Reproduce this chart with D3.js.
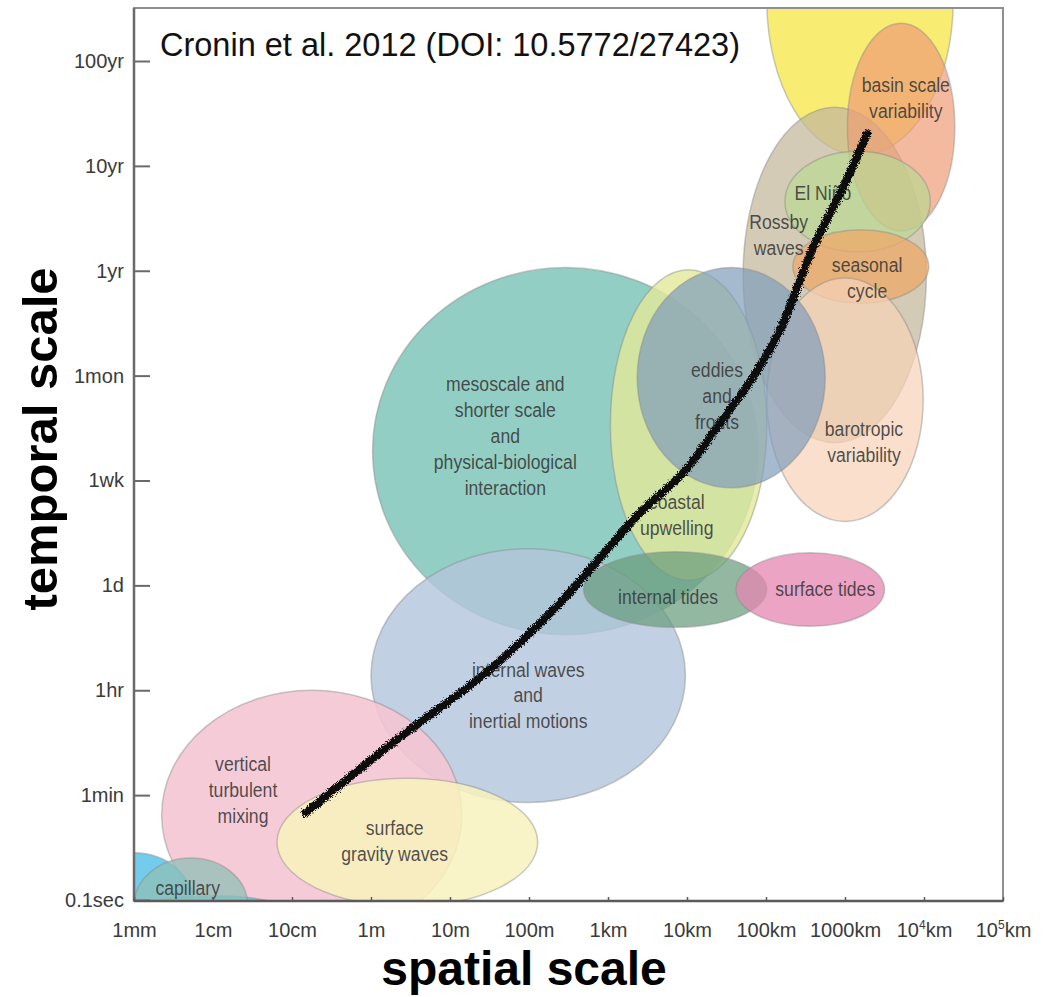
<!DOCTYPE html>
<html>
<head>
<meta charset="utf-8">
<script src="https://cdn.jsdelivr.net/npm/d3@7"></script>
<style>
  body { margin: 0; background: #fff; }
  text { font-family: "Liberation Sans", Arial, Helvetica, sans-serif; }
</style>
</head>
<body>
<div id="chart"></div>
<script>
// axis units: x = decades above 1mm, y = tick steps above 0.1sec
var spaceTicks = ["1mm", "1cm", "10cm", "1m", "10m", "100m", "1km", "10km", "100km", "1000km", "10^4km", "10^5km"]
var timeTicks = ["0.1sec", "1min", "1hr", "1d", "1wk", "1mon", "1yr", "10yr", "100yr"]

// one entry per process, in drawing order
var processes = ["large scale", "Rossby waves", "basin scale variability", "El Nino", "seasonal cycle",
  "barotropic variability", "mesoscale", "coastal upwelling", "eddies and fronts", "internal waves",
  "internal tides", "surface tides", "vertical turbulent mixing", "surface gravity waves",
  "small scale", "small scale strip", "capillary"]
var centerSpace = [9.19, 8.87, 9.71, 9.16, 9.20, 9.00, 5.46, 7.02, 7.56, 4.99, 6.85, 8.56, 2.25, 3.46, 0.00, 1.00, 0.72]
var centerTime  = [8.58, 5.96, 7.37, 6.66, 6.04, 4.77, 4.28, 4.53, 4.98, 2.14, 2.96, 2.96, 0.81, 0.55, -0.05, -0.12, -0.05]
var spreadSpace = [1.18, 1.16, 0.68, 0.92, 0.86, 0.99, 2.44, 0.99, 1.19, 1.99, 1.16, 0.94, 1.90, 1.65, 0.76, 1.00, 0.72]
var spreadTime  = [1.48, 1.60, 0.99, 0.48, 0.35, 1.16, 1.75, 1.48, 1.05, 1.21, 0.36, 0.35, 1.19, 0.61, 0.50, 0.16, 0.45]

var labelLines = [
  [], ["Rossby", "waves"], ["basin scale", "variability"], ["El Niño"], ["seasonal", "cycle"],
  ["barotropic", "variability"],
  ["mesoscale and", "shorter scale", "and", "physical-biological", "interaction"],
  ["coastal", "upwelling"], ["eddies", "and", "fronts"], ["internal waves", "and", "inertial motions"],
  ["internal tides"], ["surface tides"], ["vertical", "turbulent", "mixing"], ["surface", "gravity waves"],
  [], [], ["capillary"]
]
var labelSpace = [0, 8.16, 9.77, 8.72, 9.28, 9.24, 4.70, 6.87, 7.38, 4.99, 6.76, 8.75, 1.38, 3.30, 0, 0, 0.68]
var labelTime  = [0, 6.34, 7.65, 6.74, 5.93, 4.37, 4.42, 3.67, 4.81, 1.95, 2.89, 2.97, 1.05, 0.56, 0, 0, 0.11]

// hand drawn trend line
var curveSpace = [2.17, 3.28, 4.54, 5.39, 6.44, 6.95, 7.42, 7.84, 8.18, 8.60, 8.98, 9.28]
var curveTime  = [0.83, 1.50, 2.22, 2.83, 3.72, 4.07, 4.55, 4.99, 5.44, 6.23, 6.80, 7.31]

var fills = ["#f7ea63", "#c4ba9c", "#ee9d76", "#b9d993", "#eda86a", "#f6d3b8", "#86c9bd", "#e2e99a",
  "#7f9dbb", "#b3c6dc", "#6a9c7e", "#e586b2", "#f4c4d2", "#f8f2bd", "#5bc3e8", "#5bc3e8", "#8fbfb6"]
var alphas = [0.9, 0.75, 0.7, 0.7, 0.75, 0.72, 0.9, 0.8, 0.7, 0.82, 0.72, 0.75, 0.88, 0.85, 0.85, 0.85, 0.75]

var width = 1048, height = 997
var plotLeft = 134, plotRight = 1003, plotTop = 8, plotBottom = 901

var svg = d3.select("#chart").append("svg")
  .attr("width", width)
  .attr("height", height)

var x = d3.scaleLinear().domain([0, 11]).range([plotLeft, plotRight])
var y = d3.scaleLinear().domain([0, 8]).range([900, 61])

var defs = svg.append("defs")
defs.append("clipPath").attr("id", "plotclip")
  .append("rect")
  .attr("x", plotLeft).attr("y", plotTop)
  .attr("width", plotRight - plotLeft).attr("height", plotBottom - plotTop)

var rough = defs.append("filter").attr("id", "rough")
  .attr("x", "-10%").attr("y", "-10%").attr("width", "120%").attr("height", "120%")
rough.append("feTurbulence").attr("type", "fractalNoise").attr("baseFrequency", 1.3)
  .attr("numOctaves", 2).attr("result", "noise")
rough.append("feDisplacementMap").attr("in", "SourceGraphic").attr("in2", "noise")
  .attr("scale", 7).attr("xChannelSelector", "R").attr("yChannelSelector", "G")

var data = processes.map(function (p, i) {
  return {
    name: p, cx: centerSpace[i], cy: centerTime[i], rx: spreadSpace[i], ry: spreadTime[i],
    lines: labelLines[i], lx: labelSpace[i], ly: labelTime[i], fill: fills[i], alpha: alphas[i]
  }
})

// ellipses
svg.append("g")
  .attr("clip-path", "url(#plotclip)")
  .selectAll("ellipse")
  .data(data)
  .join("ellipse")
  .attr("cx", d => x(d.cx))
  .attr("cy", d => y(d.cy))
  .attr("rx", d => x(d.cx + d.rx) - x(d.cx))
  .attr("ry", d => y(d.cy - d.ry) - y(d.cy))
  .attr("fill", d => d.fill)
  .attr("fill-opacity", d => d.alpha)
  .attr("stroke", "#8a8a8a")
  .attr("stroke-opacity", 0.45)
  .attr("stroke-width", 1.5)

// labels inside ellipses (narrow, like the scanned figure)
var lineGap = 26
var labels = svg.append("g")
  .selectAll("g")
  .data(data.filter(d => d.lines.length > 0))
  .join("g")
  .attr("transform", d => "translate(" + x(d.lx) + "," + y(d.ly) + ")")

labels.append("text")
  .attr("transform", "scale(0.84,1)")
  .attr("text-anchor", "middle")
  .style("font-size", "21px")
  .style("fill", "#383838")
  .style("fill-opacity", 0.88)
  .selectAll("tspan")
  .data(d => d.lines.map((t, j) => ({ t: t, j: j, n: d.lines.length })))
  .join("tspan")
  .attr("x", 0)
  .attr("y", d => (d.j - (d.n - 1) / 2) * lineGap + 7)
  .text(d => d.t)

// frame
svg.append("rect")
  .attr("x", plotLeft).attr("y", plotTop)
  .attr("width", plotRight - plotLeft).attr("height", plotBottom - plotTop)
  .attr("fill", "none")
  .attr("stroke", "#8f8f8f")
  .attr("stroke-width", 2)

// y axis
var yAxis = svg.append("g")
  .attr("transform", "translate(" + plotLeft + ",0)")
  .call(d3.axisLeft(y).tickValues(d3.range(timeTicks.length))
    .tickFormat(i => timeTicks[i]).tickSize(-16).tickPadding(10))
yAxis.select(".domain").attr("stroke", "#6a6a6a").attr("stroke-width", 2.5)
  .attr("d", "M0," + plotTop + "V" + plotBottom)
yAxis.selectAll(".tick line").attr("stroke", "#6a6a6a").attr("stroke-width", 2)
yAxis.selectAll(".tick text")
  .style("font-size", "20px")
  .style("fill", "#3a3a3a")

// x axis
var xAxis = svg.append("g")
  .attr("transform", "translate(0," + plotBottom + ")")
  .call(d3.axisBottom(x).tickValues(d3.range(spaceTicks.length))
    .tickFormat(i => spaceTicks[i]).tickSize(-4).tickPadding(22))
xAxis.select(".domain").attr("stroke", "#5a5a5a").attr("stroke-width", 2.5)
  .attr("d", "M" + plotLeft + ",0H" + plotRight)
xAxis.selectAll(".tick line").attr("stroke", "#5a5a5a").attr("stroke-width", 1.5)
xAxis.selectAll(".tick text")
  .style("font-size", "20px")
  .style("fill", "#3a3a3a")
  .each(function (i) {
    var s = spaceTicks[i]
    if (s.indexOf("^") < 0) return
    var base = s.split("^")[0]
    var rest = s.split("^")[1]
    var el = d3.select(this).text("")
    el.append("tspan").text(base)
    el.append("tspan").attr("dy", -8).style("font-size", "12px").text(rest.charAt(0))
    el.append("tspan").attr("dy", 8).text(rest.slice(1))
  })

// hand drawn line on top
var curvePts = curveSpace.map((v, i) => [v, curveTime[i]])
svg.append("path")
  .datum(curvePts)
  .attr("d", d3.line().x(d => x(d[0])).y(d => y(d[1])).curve(d3.curveCatmullRom))
  .attr("fill", "none")
  .attr("stroke", "#0d0d0d")
  .attr("stroke-width", 8)
  .attr("stroke-linecap", "round")
  .attr("filter", "url(#rough)")

// source note
svg.append("text")
  .attr("x", 160)
  .attr("y", 56)
  .style("font-size", "32.5px")
  .style("fill", "#111")
  .text("Cronin et al. 2012 (DOI: 10.5772/27423)")

// axis titles
svg.append("text")
  .attr("x", 524)
  .attr("y", 985)
  .attr("text-anchor", "middle")
  .style("font-size", "48px")
  .style("font-weight", "bold")
  .text("spatial scale")

svg.append("text")
  .attr("transform", "translate(57,439) rotate(-90)")
  .attr("text-anchor", "middle")
  .style("font-size", "49px")
  .style("font-weight", "bold")
  .text("temporal scale")
</script>
</body>
</html>
